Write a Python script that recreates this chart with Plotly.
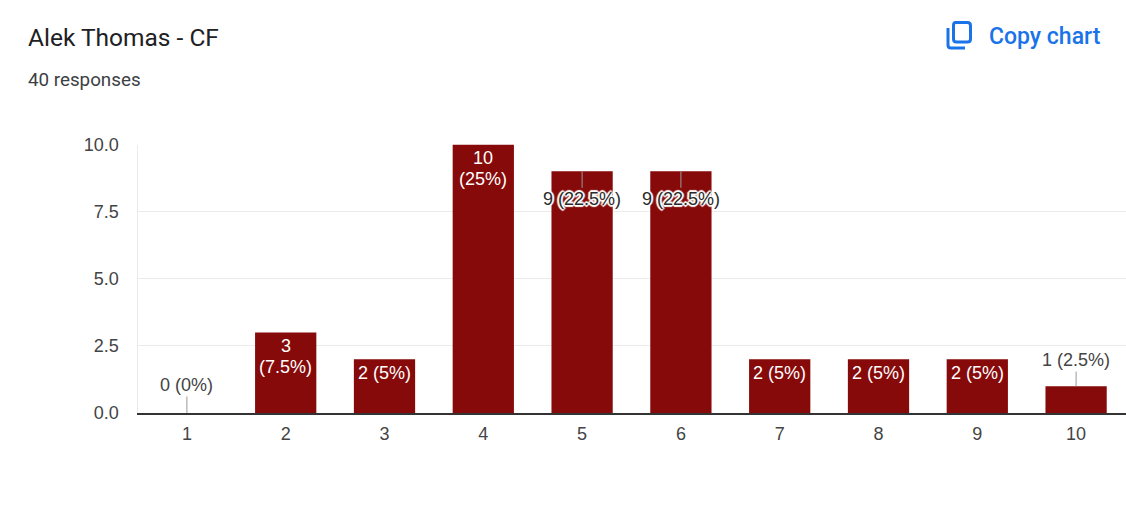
import plotly.graph_objects as go

W = 1126
H = 517

title = 'Alek Thomas - CF'
subtitle = '40 responses'
copy_text = 'Copy chart'

categories = ['1', '2', '3', '4', '5', '6', '7', '8', '9', '10']
counts = [0, 3, 2, 10, 9, 9, 2, 2, 2, 1]
labels = ['0 (0%)', '3<br>(7.5%)', '2 (5%)', '10<br>(25%)', '9 (22.5%)',
          '9 (22.5%)', '2 (5%)', '2 (5%)', '2 (5%)', '1 (2.5%)']
y_ticks = [0, 2.5, 5, 7.5, 10]

BAR = '#870a0a'
BLUE = '#1a73e8'
HALO = ('1px 1px 1px #fff, -1px -1px 1px #fff, 1px -1px 1px #fff, -1px 1px 1px #fff, '
        '2px 0 1px #fff, -2px 0 1px #fff, 0 2px 1px #fff, 0 -2px 1px #fff')


def px(x):
    return x / W


def py(y):
    return 1 - y / H


fig = go.Figure()
fig.add_trace(go.Bar(x=categories, y=counts, marker=dict(color=BAR, line=dict(width=0)), hoverinfo='skip'))

# labels: inside the bar when it fits, on a leader line otherwise
# annotations on a category axis take the category index, not the label
for i, (n, text) in enumerate(zip(counts, labels)):
    if n == 9:
        fig.add_annotation(x=i, y=n, text=text, showarrow=True, arrowhead=0, arrowwidth=1,
                           arrowcolor='#999999', ax=0, ay=28, standoff=0,
                           font=dict(family='Liberation Sans', size=18, color='#2a2a2a', shadow=HALO))
    elif n < 2:
        fig.add_annotation(x=i, y=n, text=text, showarrow=True, arrowhead=0, arrowwidth=1,
                           arrowcolor='#999999', ax=0, ay=-28 if n == 0 else -26, standoff=0,
                           font=dict(family='Liberation Sans', size=18, color='#444444'))
    else:
        # one annotation per line, plotly's own <br> spacing is too loose here
        for j, line in enumerate(text.split('<br>')):
            fig.add_annotation(x=i, y=n, text=line, showarrow=False, yanchor='top', yshift=-2 - j * 21,
                               font=dict(family='Liberation Sans', size=18, color='#ffffff'))

fig.add_annotation(xref='paper', yref='paper', x=px(26), y=py(38), text=title, showarrow=False,
                   xanchor='left', yanchor='middle', font=dict(family='Roboto', size=24.5, color='#202124'))
fig.add_annotation(xref='paper', yref='paper', x=px(26), y=py(80), text=subtitle, showarrow=False,
                   xanchor='left', yanchor='middle', font=dict(family='Roboto', size=18.8, color='#3c4043'))
fig.add_annotation(xref='paper', yref='paper', x=px(1103), y=py(36), text=copy_text, showarrow=False,
                   xanchor='right', yanchor='middle',
                   font=dict(family='Roboto', size=23, color=BLUE, weight=500))

# copy icon
fig.add_shape(type='path', xref='paper', yref='paper',
              path=(f'M {px(955.5)} {py(22.5)} L {px(967.5)} {py(22.5)} Q {px(970.5)} {py(22.5)} {px(970.5)} {py(25.5)} '
                    f'L {px(970.5)} {py(39)} Q {px(970.5)} {py(42)} {px(967.5)} {py(42)} '
                    f'L {px(956.5)} {py(42)} Q {px(953.5)} {py(42)} {px(953.5)} {py(39)} '
                    f'L {px(953.5)} {py(25.5)} Q {px(953.5)} {py(22.5)} {px(955.5)} {py(22.5)} Z'),
              line=dict(color=BLUE, width=3))
fig.add_shape(type='path', xref='paper', yref='paper',
              path=(f'M {px(948)} {py(28)} L {px(948)} {py(45)} Q {px(948)} {py(48)} {px(951)} {py(48)} '
                    f'L {px(965)} {py(48)}'),
              line=dict(color=BLUE, width=3))

fig.update_layout(
    width=W, height=H,
    margin=dict(l=0, r=0, t=0, b=0, autoexpand=False),
    paper_bgcolor='#ffffff', plot_bgcolor='#ffffff',
    bargap=0.38, showlegend=False,
    font=dict(family='Liberation Sans', size=18, color='#444444'),
    xaxis=dict(domain=[px(137.5), px(1125.5)], type='category', showline=True, linecolor='#333333', linewidth=1.5,
               range=[-0.5, 9.5], ticks='', showgrid=False, zeroline=False, anchor='y', ticklabelstandoff=4),
    yaxis=dict(domain=[py(413), py(144.5)], range=[0, 10], tickvals=y_ticks, tickformat='.1f',
               showgrid=True, gridcolor='#ebebeb', gridwidth=1, zeroline=False, showline=True,
               linecolor='#ebebeb', linewidth=1, mirror=True, ticks='', ticklabelstandoff=14),
)

fig.write_html("out.html", config=dict(displayModeBar=False), post_script="document.body.style.margin='0';")
